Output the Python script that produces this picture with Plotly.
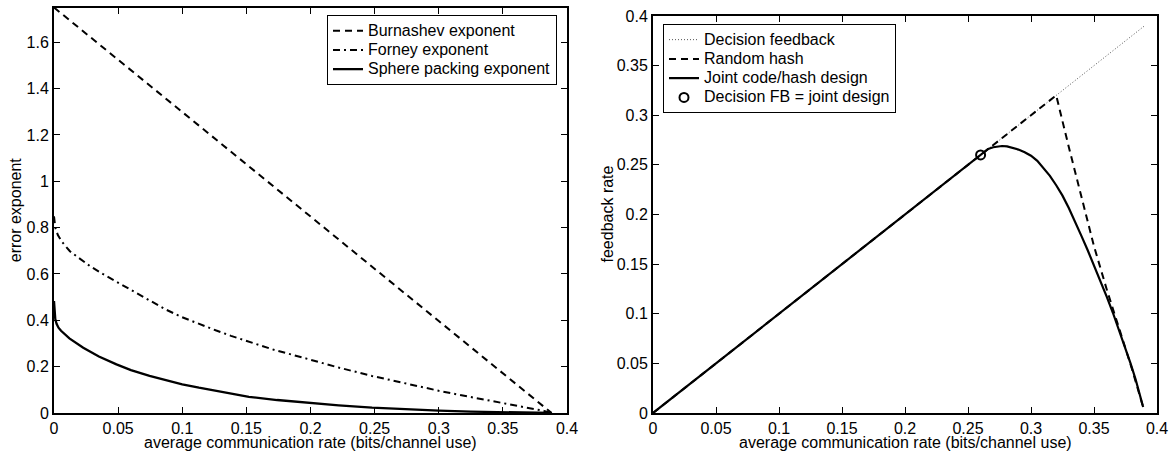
import plotly.graph_objects as go

# ---- Left panel data (error exponents) ----
burn_x = [0.0, 0.388]
burn_y = [1.75, 0.0]

forney_x = [0.0, 0.001, 0.003, 0.006, 0.0124, 0.02, 0.028, 0.038, 0.0487, 0.06, 0.0745, 0.087, 0.100, 0.113, 0.126, 0.138, 0.150, 0.172, 0.196, 0.222, 0.248, 0.274, 0.300, 0.325, 0.351, 0.368, 0.382, 0.388]
forney_y = [0.849, 0.80, 0.768, 0.740, 0.698, 0.665, 0.634, 0.600, 0.566, 0.530, 0.485, 0.447, 0.413, 0.384, 0.357, 0.333, 0.311, 0.272, 0.236, 0.196, 0.160, 0.127, 0.096, 0.069, 0.043, 0.025, 0.009, 0.0]

sphere_x = [0.0, 0.0003, 0.001, 0.002, 0.0035, 0.0055, 0.0072, 0.012, 0.0228, 0.035, 0.0487, 0.06, 0.0745, 0.087, 0.100, 0.113, 0.126, 0.139, 0.152, 0.174, 0.196, 0.222, 0.248, 0.274, 0.300, 0.325, 0.350, 0.370, 0.388]
sphere_y = [0.483, 0.44, 0.405, 0.385, 0.368, 0.355, 0.346, 0.322, 0.282, 0.244, 0.210, 0.185, 0.160, 0.141, 0.124, 0.109, 0.095, 0.082, 0.070, 0.056, 0.044, 0.033, 0.023, 0.016, 0.010, 0.006, 0.003, 0.001, 0.0]

# ---- Right panel data (feedback rates) ----
df_x = [0.0, 0.39]
df_y = [0.0, 0.39]

hash_x = [0.0, 0.32, 0.33, 0.34, 0.35, 0.36, 0.37, 0.38, 0.389]
hash_y = [0.0, 0.32, 0.268, 0.218, 0.168, 0.125, 0.085, 0.045, 0.006]

joint_x = [0.0, 0.26, 0.263, 0.266, 0.27, 0.274, 0.277, 0.281, 0.285, 0.290, 0.295, 0.300, 0.305, 0.310, 0.315, 0.320, 0.325, 0.330, 0.335, 0.340, 0.345, 0.350, 0.355, 0.360, 0.365, 0.370, 0.375, 0.379, 0.383, 0.386, 0.389]
joint_y = [0.0, 0.26, 0.2635, 0.266, 0.2678, 0.2688, 0.269, 0.2686, 0.2673, 0.2654, 0.2628, 0.2592, 0.254, 0.247, 0.239, 0.2295, 0.219, 0.2065, 0.193, 0.1785, 0.164, 0.149, 0.134, 0.1175, 0.101, 0.0835, 0.065, 0.050, 0.034, 0.021, 0.006]

pt_x = [0.26]
pt_y = [0.26]

x_ticks = [0, 0.05, 0.1, 0.15, 0.2, 0.25, 0.3, 0.35, 0.4]
x_text = ["0", "0.05", "0.1", "0.15", "0.2", "0.25", "0.3", "0.35", "0.4"]
left_yticks = [0, 0.2, 0.4, 0.6, 0.8, 1.0, 1.2, 1.4, 1.6]
left_ytext = ["0", "0.2", "0.4", "0.6", "0.8", "1", "1.2", "1.4", "1.6"]
right_yticks = [0, 0.05, 0.1, 0.15, 0.2, 0.25, 0.3, 0.35, 0.4]
right_ytext = ["0", "0.05", "0.1", "0.15", "0.2", "0.25", "0.3", "0.35", "0.4"]

xlabel = "average communication rate (bits/channel use)"

FONT = "Liberation Sans, Arial, Helvetica, sans-serif"
FS = 16
LEG_FS = 12.5  # controls legend row spacing; entry text itself is shown at FS


def leg(name):
    return '<span style="font-size:%dpx">%s</span>' % (FS, name)


fig = go.Figure()

fig.add_trace(go.Scatter(x=burn_x, y=burn_y, mode="lines", name=leg("Burnashev exponent"),
                         line=dict(color="black", width=2, dash="7px,5px"),
                         xaxis="x", yaxis="y", legend="legend"))
fig.add_trace(go.Scatter(x=forney_x, y=forney_y, mode="lines", name=leg("Forney exponent"),
                         line=dict(color="black", width=2, dash="7px,4px,2px,4px"),
                         xaxis="x", yaxis="y", legend="legend"))
fig.add_trace(go.Scatter(x=sphere_x, y=sphere_y, mode="lines", name=leg("Sphere packing exponent"),
                         line=dict(color="black", width=2.3),
                         xaxis="x", yaxis="y", legend="legend"))

fig.add_trace(go.Scatter(x=df_x, y=df_y, mode="lines", name=leg("Decision feedback"),
                         line=dict(color="#555555", width=1, dash="1px,2px"),
                         xaxis="x2", yaxis="y2", legend="legend2"))
fig.add_trace(go.Scatter(x=hash_x, y=hash_y, mode="lines", name=leg("Random hash"),
                         line=dict(color="black", width=2, dash="7px,5px"),
                         xaxis="x2", yaxis="y2", legend="legend2"))
fig.add_trace(go.Scatter(x=joint_x, y=joint_y, mode="lines", name=leg("Joint code/hash design"),
                         line=dict(color="black", width=2.2),
                         xaxis="x2", yaxis="y2", legend="legend2"))
fig.add_trace(go.Scatter(x=pt_x, y=pt_y, mode="markers", name=leg("Decision FB = joint design"),
                         marker=dict(symbol="circle-open", size=9, color="black", line=dict(width=2)),
                         xaxis="x2", yaxis="y2", legend="legend2"))

axis_common = dict(showline=True, linecolor="black", linewidth=2, mirror="ticks",
                   ticks="inside", ticklen=6, tickwidth=1.2, tickcolor="black",
                   showgrid=False, zeroline=False, automargin=False,
                   tickfont=dict(family=FONT, size=FS, color="black"))

W, H = 1173, 452
l_left, l_right, l_top, l_bot = 54, 567, 7.5, 413
r_left, r_right, r_top, r_bot = 653, 1157, 16, 413

ann_font = dict(family=FONT, size=FS, color="black")
annotations = [
    dict(text=xlabel, xref="x domain", yref="paper", x=0.5, y=1 - 442 / H,
         xanchor="center", yanchor="middle", showarrow=False, font=ann_font),
    dict(text=xlabel, xref="x2 domain", yref="paper", x=0.5, y=1 - 442 / H,
         xanchor="center", yanchor="middle", showarrow=False, font=ann_font),
    dict(text="error exponent", xref="paper", yref="y domain", x=15 / W, y=0.5,
         xanchor="center", yanchor="middle", textangle=-90, showarrow=False, font=ann_font),
    dict(text="feedback rate", xref="paper", yref="y2 domain", x=607 / W, y=0.5,
         xanchor="center", yanchor="middle", textangle=-90, showarrow=False, font=ann_font),
]

leg_common = dict(xanchor="left", yanchor="top", bgcolor="white", bordercolor="black",
                  borderwidth=1, font=dict(family=FONT, size=LEG_FS, color="black"),
                  tracegroupgap=0, itemwidth=30)

fig.update_layout(
    template="none",
    width=W, height=H,
    margin=dict(l=0, r=0, t=0, b=0, autoexpand=False),
    paper_bgcolor="white", plot_bgcolor="white",
    font=dict(family=FONT, size=FS, color="black"),
    xaxis=dict(domain=[l_left / W, l_right / W], range=[0, 0.4], anchor="y",
               tickvals=x_ticks, ticktext=x_text, **axis_common),
    yaxis=dict(domain=[1 - l_bot / H, 1 - l_top / H], range=[0, 1.75], anchor="x",
               tickvals=left_yticks, ticktext=left_ytext, **axis_common),
    xaxis2=dict(domain=[r_left / W, r_right / W], range=[0, 0.4], anchor="y2",
                tickvals=x_ticks, ticktext=x_text, **axis_common),
    yaxis2=dict(domain=[1 - r_bot / H, 1 - r_top / H], range=[0, 0.4], anchor="x2",
                tickvals=right_yticks, ticktext=right_ytext, **axis_common),
    annotations=annotations,
    legend=dict(x=327 / W, y=1 - 15 / H, **leg_common),
    legend2=dict(x=663 / W, y=1 - 24 / H, **leg_common),
    showlegend=True,
)

fig.write_html("out.html", config={"displayModeBar": False},
               post_script="document.body.style.margin='0px';")
